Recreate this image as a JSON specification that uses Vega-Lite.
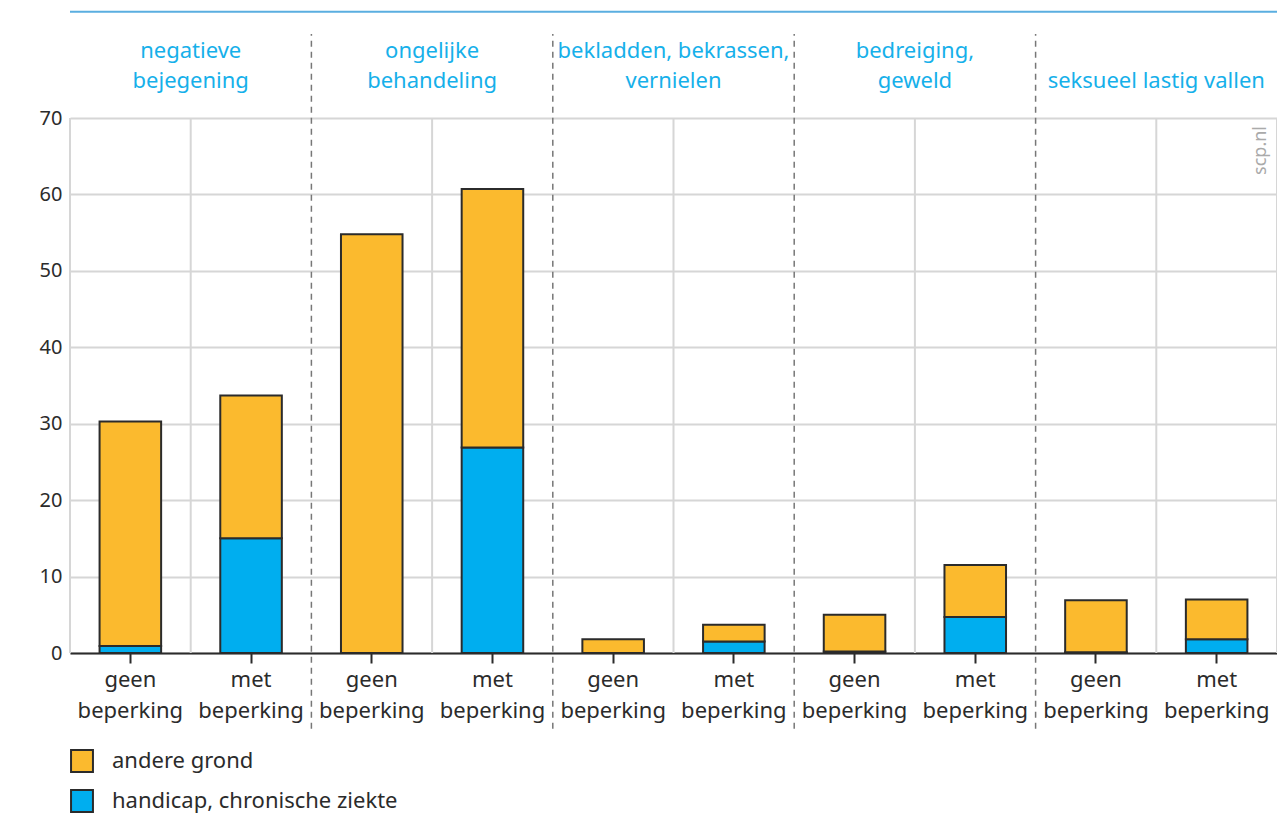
{
  "$schema": "https://vega.github.io/schema/vega-lite/v6.json",
  "autosize": "none",
  "padding": {"left": 70, "top": 118, "right": 0, "bottom": 161},
  "width": 1207,
  "height": 535,
  "background": "white",
  "data": {"values": [
    {"group": "negatieve|bejegening", "beperking": "geen beperking", "series": "handicap, chronische ziekte", "value": 0.9},
    {"group": "negatieve|bejegening", "beperking": "geen beperking", "series": "andere grond", "value": 29.4},
    {"group": "negatieve|bejegening", "beperking": "met beperking", "series": "handicap, chronische ziekte", "value": 15.0},
    {"group": "negatieve|bejegening", "beperking": "met beperking", "series": "andere grond", "value": 18.7},
    {"group": "ongelijke|behandeling", "beperking": "geen beperking", "series": "handicap, chronische ziekte", "value": 0},
    {"group": "ongelijke|behandeling", "beperking": "geen beperking", "series": "andere grond", "value": 54.8},
    {"group": "ongelijke|behandeling", "beperking": "met beperking", "series": "handicap, chronische ziekte", "value": 26.9},
    {"group": "ongelijke|behandeling", "beperking": "met beperking", "series": "andere grond", "value": 33.8},
    {"group": "bekladden, bekrassen,|vernielen", "beperking": "geen beperking", "series": "handicap, chronische ziekte", "value": 0},
    {"group": "bekladden, bekrassen,|vernielen", "beperking": "geen beperking", "series": "andere grond", "value": 1.8},
    {"group": "bekladden, bekrassen,|vernielen", "beperking": "met beperking", "series": "handicap, chronische ziekte", "value": 1.5},
    {"group": "bekladden, bekrassen,|vernielen", "beperking": "met beperking", "series": "andere grond", "value": 2.2},
    {"group": "bedreiging,|geweld", "beperking": "geen beperking", "series": "handicap, chronische ziekte", "value": 0.2},
    {"group": "bedreiging,|geweld", "beperking": "geen beperking", "series": "andere grond", "value": 4.8},
    {"group": "bedreiging,|geweld", "beperking": "met beperking", "series": "handicap, chronische ziekte", "value": 4.7},
    {"group": "bedreiging,|geweld", "beperking": "met beperking", "series": "andere grond", "value": 6.8},
    {"group": "|seksueel lastig vallen", "beperking": "geen beperking", "series": "handicap, chronische ziekte", "value": 0.1},
    {"group": "|seksueel lastig vallen", "beperking": "geen beperking", "series": "andere grond", "value": 6.8},
    {"group": "|seksueel lastig vallen", "beperking": "met beperking", "series": "handicap, chronische ziekte", "value": 1.8},
    {"group": "|seksueel lastig vallen", "beperking": "met beperking", "series": "andere grond", "value": 5.2}
  ]},
  "transform": [{"calculate": "datum.group + '#' + datum.beperking", "as": "bar"}],
  "layer": [
    {
      "transform": [{"filter": "datum.series == 'andere grond' && (datum.beperking == 'met beperking' || datum.group == 'negatieve|bejegening')"}],
      "mark": {"type": "rule", "color": "#d6d6d6", "strokeWidth": 2},
      "encoding": {
        "x": {"field": "bar", "type": "nominal", "bandPosition": 0},
        "y": {"datum": 0},
        "y2": {"datum": 70}
      }
    },
    {
      "transform": [{"filter": "datum.series == 'andere grond' && datum.beperking == 'met beperking' && datum.group == '|seksueel lastig vallen'"}],
      "mark": {"type": "rule", "color": "#d6d6d6", "strokeWidth": 2},
      "encoding": {
        "x": {"field": "bar", "type": "nominal", "bandPosition": 1},
        "y": {"datum": 0},
        "y2": {"datum": 70}
      }
    },
    {
      "mark": {"type": "bar", "width": {"band": 0.51}, "stroke": "#2b2b2b", "strokeWidth": 2},
      "encoding": {
        "x": {
          "field": "bar",
          "type": "nominal",
          "scale": {
            "domain": [
              "negatieve|bejegening#geen beperking", "negatieve|bejegening#met beperking",
              "ongelijke|behandeling#geen beperking", "ongelijke|behandeling#met beperking",
              "bekladden, bekrassen,|vernielen#geen beperking", "bekladden, bekrassen,|vernielen#met beperking",
              "bedreiging,|geweld#geen beperking", "bedreiging,|geweld#met beperking",
              "|seksueel lastig vallen#geen beperking", "|seksueel lastig vallen#met beperking"
            ],
            "paddingInner": 0,
            "paddingOuter": 0
          },
          "axis": {
            "title": null,
            "labelAngle": 0,
            "labelAlign": "center",
            "labelBaseline": "top",
            "labelExpr": "split(split(datum.value, '#')[1], ' ')",
            "labelFontSize": 22,
            "labelLineHeight": 31,
            "labelColor": "#2b2b2b",
            "labelPadding": 6,
            "labelOverlap": false,
            "domainColor": "#2b2b2b",
            "domainWidth": 2,
            "tickColor": "#2b2b2b",
            "tickWidth": 2,
            "tickSize": 10,
            "grid": false
          }
        },
        "y": {
          "field": "value",
          "type": "quantitative",
          "stack": "zero",
          "scale": {"domain": [0, 70], "nice": false},
          "axis": {
            "title": null,
            "values": [0, 10, 20, 30, 40, 50, 60, 70],
            "domain": false,
            "ticks": false,
            "grid": true,
            "labelFontSize": 20,
            "labelColor": "#2b2b2b",
            "labelPadding": 8,
            "gridColor": "#d6d6d6",
            "gridWidth": 2
          }
        },
        "color": {
          "field": "series",
          "type": "nominal",
          "scale": {"domain": ["andere grond", "handicap, chronische ziekte"], "range": ["#fbba2e", "#00aeef"]},
          "legend": {
            "title": null,
            "orient": "bottom",
            "direction": "vertical",
            "symbolType": "square",
            "symbolSize": 480,
            "symbolStrokeColor": "#2b2b2b",
            "symbolStrokeWidth": 2,
            "symbolOpacity": 1,
            "labelFontSize": 22,
            "labelColor": "#2b2b2b",
            "labelLimit": 500,
            "rowPadding": 10,
            "labelOffset": 18,
            "offset": 28
          }
        },
        "order": {"field": "series", "sort": "descending"}
      }
    },
    {
      "transform": [{"filter": "datum.series == 'andere grond' && datum.beperking == 'geen beperking' && datum.group != 'negatieve|bejegening'"}],
      "mark": {"type": "rule", "color": "#777777", "strokeWidth": 1.5, "strokeDash": [6, 5]},
      "encoding": {
        "x": {"field": "bar", "type": "nominal", "bandPosition": 0},
        "y": {"datum": -9.9},
        "y2": {"datum": 81}
      }
    },
    {
      "transform": [{"filter": "datum.series == 'andere grond' && datum.beperking == 'geen beperking' && datum.group == 'negatieve|bejegening'"}],
      "mark": {"type": "rule", "color": "#5aaee0", "strokeWidth": 2},
      "encoding": {
        "y": {"datum": 83.9}
      }
    },
    {
      "transform": [{"filter": "datum.series == 'andere grond' && datum.beperking == 'met beperking'"}],
      "mark": {"type": "text", "lineBreak": "|", "lineHeight": 30.5, "baseline": "alphabetic", "align": "center", "fontSize": 22, "color": "#16b0ea"},
      "encoding": {
        "x": {"field": "bar", "type": "nominal", "bandPosition": 0},
        "y": {"datum": 77.9},
        "text": {"field": "group"}
      }
    },
    {
      "transform": [{"filter": "datum.series == 'andere grond' && datum.beperking == 'met beperking' && datum.group == '|seksueel lastig vallen'"}],
      "mark": {"type": "text", "text": "scp.nl", "angle": 270, "align": "right", "baseline": "bottom", "color": "#aaaaaa", "fontSize": 18, "dx": -8, "dy": -7},
      "encoding": {
        "x": {"field": "bar", "type": "nominal", "bandPosition": 1},
        "y": {"datum": 70}
      }
    }
  ],
  "config": {
    "font": "Noto Sans",
    "view": {"stroke": null}
  }
}
